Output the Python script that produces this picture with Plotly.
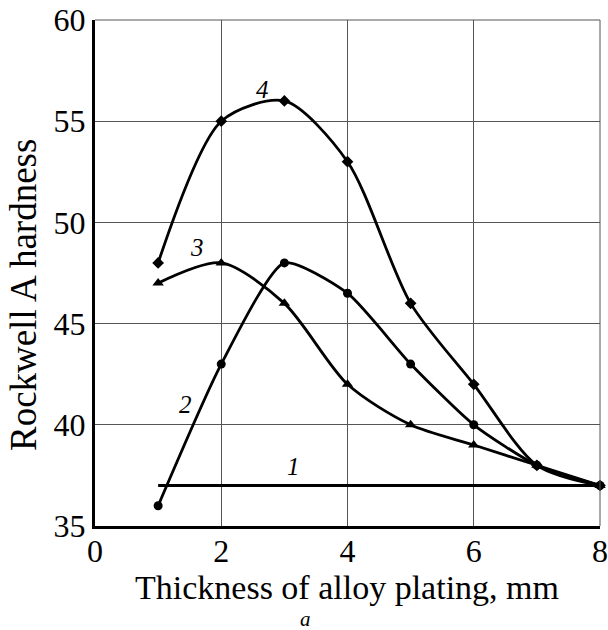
import plotly.graph_objects as go

thickness = [1, 2, 3, 4, 5, 6, 7, 8]
curve1_x = [1, 8]
curve1_y = [37, 37]
curve2 = [36, 43, 48, 46.5, 43, 40, 38, 37]
curve3 = [47, 48, 46, 42, 40, 39, 38, 37]
curve4 = [48, 55, 56, 53, 46, 42, 38, 37]

labels = ["1", "2", "3", "4"]
label_x = [3.15, 1.44, 1.62, 2.66]
label_y = [37.95, 41.0, 48.75, 56.55]

x_title = "Thickness of alloy plating, mm"
y_title = "Rockwell A hardness"
sub_label = "a"

FONT = "Liberation Serif, Times New Roman, serif"
LW = 2.8

fig = go.Figure()
fig.add_trace(go.Scatter(x=curve1_x, y=curve1_y, mode="lines", cliponaxis=False,
                         line=dict(color="black", width=LW)))
fig.add_trace(go.Scatter(x=thickness, y=curve2, mode="lines+markers", cliponaxis=False,
                         line=dict(color="black", width=LW, shape="spline", smoothing=0.6),
                         marker=dict(symbol="circle", size=9, color="black")))
fig.add_trace(go.Scatter(x=thickness, y=curve3, mode="lines+markers", cliponaxis=False,
                         line=dict(color="black", width=LW, shape="spline", smoothing=0.8),
                         marker=dict(symbol="triangle-up", size=10, color="black")))
fig.add_trace(go.Scatter(x=thickness, y=curve4, mode="lines+markers", cliponaxis=False,
                         line=dict(color="black", width=LW, shape="spline", smoothing=0.8),
                         marker=dict(symbol="diamond", size=9, color="black")))

for t, lx, ly in zip(labels, label_x, label_y):
    fig.add_annotation(x=lx, y=ly, text=f"<i>{t}</i>", showarrow=False,
                       font=dict(family=FONT, size=25, color="black"))

# axis titles placed as in the reference (y title sits below plot centre)
fig.add_annotation(x=0.499, y=-0.1206, xref="paper", yref="paper", text=x_title,
                   showarrow=False, xanchor="center", yanchor="middle",
                   font=dict(family=FONT, size=34, color="black"))
fig.add_annotation(x=-0.1426, y=0.4565, xref="paper", yref="paper", text=y_title,
                   textangle=-90, showarrow=False, xanchor="center", yanchor="middle",
                   font=dict(family=FONT, size=37, color="black"))
fig.add_annotation(x=0.416, y=-0.184, xref="paper", yref="paper", text=f"<i>{sub_label}</i>",
                   showarrow=False, yanchor="middle",
                   font=dict(family=FONT, size=21, color="black"))

fig.add_shape(type="line", xref="paper", yref="paper", x0=1, x1=1, y0=0, y1=1,
              line=dict(color="#555", width=1))
fig.add_shape(type="line", xref="paper", yref="paper", x0=0, x1=1, y0=1, y1=1,
              line=dict(color="#555", width=1))

fig.update_layout(
    width=608, height=630,
    margin=dict(l=95, r=8, t=20, b=104, autoexpand=False),
    paper_bgcolor="white", plot_bgcolor="white",
    showlegend=False,
    font=dict(family=FONT, color="black"),
    xaxis=dict(range=[0, 8], tickvals=[0, 2, 4, 6, 8], ticktext=["0", "2", "4", "6", "8"],
               showgrid=True, gridcolor="#555", gridwidth=1,
               showline=True, linecolor="black", linewidth=3,
               zeroline=False, ticks="", tickfont=dict(size=32), automargin=False,
               ticklabeloverflow="allow", ticklabelstandoff=-5),
    yaxis=dict(range=[35, 60], tickvals=[35, 40, 45, 50, 55, 60],
               ticktext=["35", "40", "45", "50", "55", "60"],
               showgrid=True, gridcolor="#555", gridwidth=1,
               showline=True, linecolor="black", linewidth=3,
               zeroline=False, ticks="", tickfont=dict(size=32), automargin=False,
               ticklabeloverflow="allow"),
)

fig.write_html("out.html", config={"displayModeBar": False},
               post_script="document.body.style.margin='0';document.body.style.overflow='hidden';")
